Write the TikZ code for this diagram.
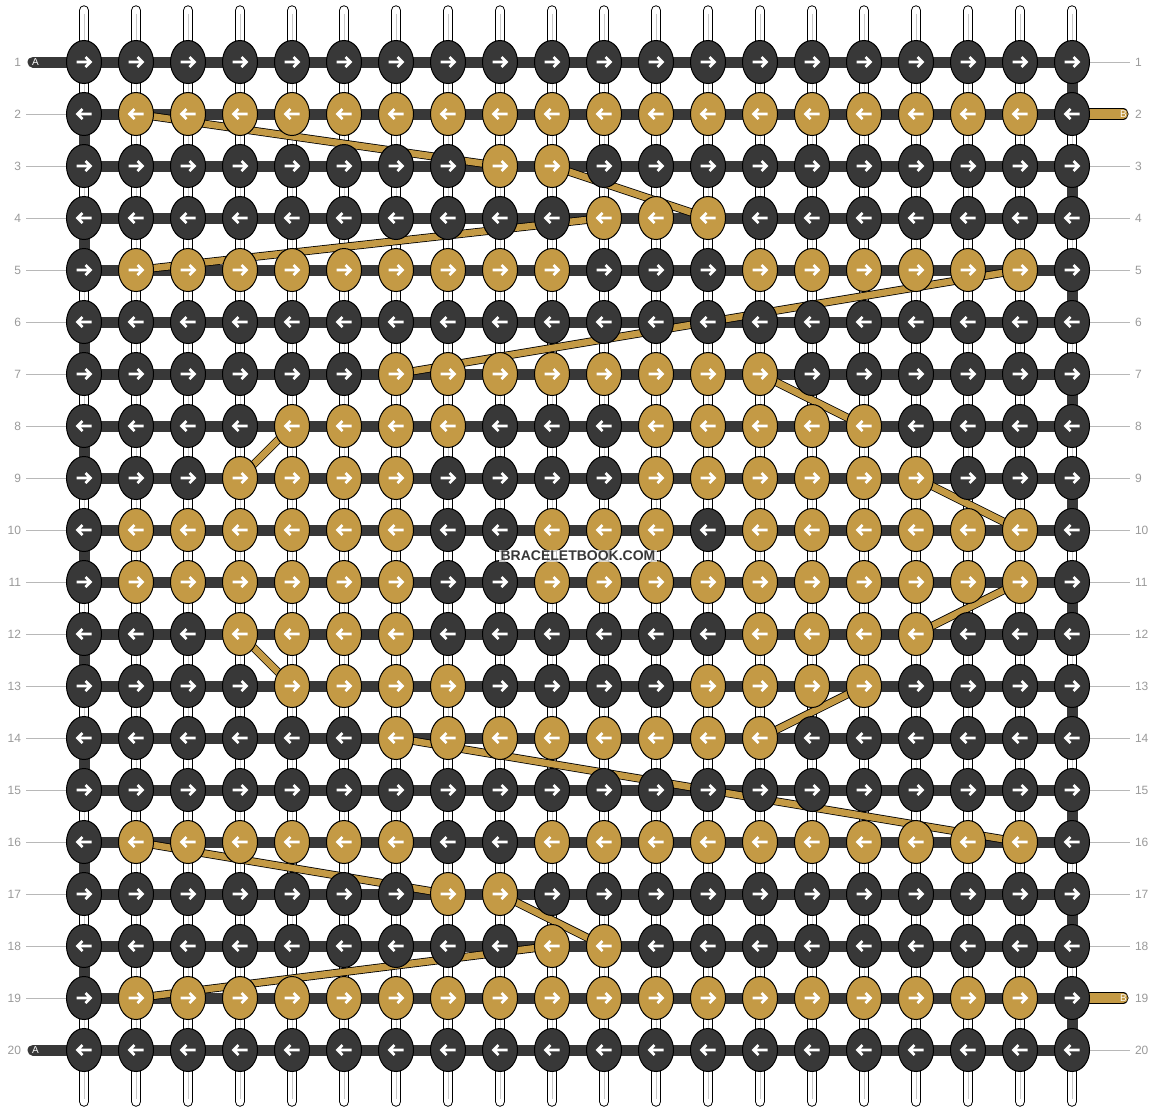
\documentclass[tikz,border=0pt]{standalone}
\usepackage{fontspec}
\setmainfont{Liberation Sans}
\usetikzlibrary{positioning,shapes.geometric,backgrounds}

\definecolor{knotdark}{HTML}{383838}
\definecolor{knotgold}{HTML}{C49A45}
\definecolor{rowgray}{HTML}{9A9A9A}

\tikzset{
    knot/.style={ellipse,draw=black,line width=1pt,minimum width=35pt,minimum height=43pt,inner sep=0pt},
    knotarrow/.style={white,line width=2.6pt},
    thread/.style={draw=black,line width=1pt,double=white,double distance=8.5pt,line cap=round},
    threadmid/.style={black!22,line width=1pt},
    rowbar/.style={knotdark,line width=11pt},
    goldend/.style={draw=black,line width=0.8pt,double=knotgold,double distance=9.5pt,line cap=round},
    goldpath/.style={draw=black,line width=0.8pt,double=knotgold,double distance=6.5pt},
    rownum/.style={text=rowgray,font=\fontsize{12}{12}\selectfont,inner sep=0pt,outer sep=5pt},
    numline/.style={black!28,line width=0.8pt},
    tag/.style={font=\fontsize{10}{10}\selectfont,inner sep=0pt},
}

\begin{document}
\begin{tikzpicture}[x=1pt,y=-1pt]
    \useasboundingbox (0,0) rectangle (1156,1112);

    % knots, 1 = gold
    \foreach \r/\code in {
        1/{0,0,0,0,0,0,0,0,0,0,0,0,0,0,0,0,0,0,0,0},
        2/{0,1,1,1,1,1,1,1,1,1,1,1,1,1,1,1,1,1,1,0},
        3/{0,0,0,0,0,0,0,0,1,1,0,0,0,0,0,0,0,0,0,0},
        4/{0,0,0,0,0,0,0,0,0,0,1,1,1,0,0,0,0,0,0,0},
        5/{0,1,1,1,1,1,1,1,1,1,0,0,0,1,1,1,1,1,1,0},
        6/{0,0,0,0,0,0,0,0,0,0,0,0,0,0,0,0,0,0,0,0},
        7/{0,0,0,0,0,0,1,1,1,1,1,1,1,1,0,0,0,0,0,0},
        8/{0,0,0,0,1,1,1,1,0,0,0,1,1,1,1,1,0,0,0,0},
        9/{0,0,0,1,1,1,1,0,0,0,0,1,1,1,1,1,1,0,0,0},
        10/{0,1,1,1,1,1,1,0,0,1,1,1,0,1,1,1,1,1,1,0},
        11/{0,1,1,1,1,1,1,0,0,1,1,1,1,1,1,1,1,1,1,0},
        12/{0,0,0,1,1,1,1,0,0,0,0,0,0,1,1,1,1,0,0,0},
        13/{0,0,0,0,1,1,1,1,0,0,0,0,1,1,1,1,0,0,0,0},
        14/{0,0,0,0,0,0,1,1,1,1,1,1,1,1,0,0,0,0,0,0},
        15/{0,0,0,0,0,0,0,0,0,0,0,0,0,0,0,0,0,0,0,0},
        16/{0,1,1,1,1,1,1,0,0,1,1,1,1,1,1,1,1,1,1,0},
        17/{0,0,0,0,0,0,0,1,1,0,0,0,0,0,0,0,0,0,0,0},
        18/{0,0,0,0,0,0,0,0,0,1,1,0,0,0,0,0,0,0,0,0},
        19/{0,1,1,1,1,1,1,1,1,1,1,1,1,1,1,1,1,1,1,0},
        20/{0,0,0,0,0,0,0,0,0,0,0,0,0,0,0,0,0,0,0,0}}{
        \pgfmathsetmacro\y{62+52*(\r-1)}
        \pgfmathsetmacro\d{isodd(\r)?1:-1}
        \foreach \v [count=\c] in \code {
            \pgfmathsetmacro\x{84+52*(\c-1)}
            \ifnum\v=1 \def\kfill{knotgold}\else\def\kfill{knotdark}\fi
            \node[knot,fill=\kfill] (k-\r-\c) at (\x,\y) {};
            \draw[knotarrow] (k-\r-\c.center) ++(-7.5*\d,0) -- ++(14*\d,0)
                ++(-5*\d,-5) -- ++(5*\d,5) -- ++(-5*\d,5);
        }
        \node[rownum,anchor=east] (ln-\r) at (26,\y) {\r};
        \node[rownum,anchor=west] (rn-\r) at (1130,\y) {\r};
    }

    % loose ends
    \coordinate (endA-1) at (33,62);
    \coordinate (endA-20) at (33,1050);
    \coordinate (endB-2) at (1123,114);
    \coordinate (endB-19) at (1123,998);
    \node[tag,text=white] (tagA-1) at (35.5,62) {A};
    \node[tag,text=white] (tagA-20) at (35.5,1050) {A};
    \node[tag,text=white!92!knotgold] (tagB-2) at (1123.5,114) {B};
    \node[tag,text=white!92!knotgold] (tagB-19) at (1123.5,998) {B};

    \node[font=\bfseries\fontsize{14}{14}\selectfont,text=knotdark,fill=white,fill opacity=0.75,text opacity=1,inner sep=1.5pt] (brand) at (578,556) {BRACELETBOOK.COM};

    \begin{pgfonlayer}{background}
        \fill[white] (0,0) rectangle (1156,1112);
        \foreach \c in {1,...,20}{
            \pgfmathsetmacro\x{84+52*(\c-1)}
            \coordinate (top-\c) at (\x,10.5);
            \coordinate (bot-\c) at (\x,1101.5);
            \draw[thread] (top-\c) -- (bot-\c);
            \draw[threadmid] ([yshift=-3pt]top-\c) -- ([yshift=3pt]bot-\c);
        }
        % turns at the edges
        \foreach \r in {1,...,19}{
            \pgfmathtruncatemacro\rr{\r+1}
            \ifodd\r
                \draw[rowbar] (k-\r-20.center) -- (k-\rr-20.center);
            \else
                \draw[rowbar] (k-\r-1.center) -- (k-\rr-1.center);
            \fi
        }
        \foreach \r in {1,...,20}
            \draw[rowbar] (k-\r-1.center) -- (k-\r-20.center);
        \foreach \r in {2,...,19}
            \draw[numline] (ln-\r) -- (k-\r-1);
        \foreach \r in {1,3,4,...,18,20}
            \draw[numline] (k-\r-20) -- (rn-\r);
        \draw[rowbar,line cap=round] (endA-1) -- (k-1-1.center);
        \draw[rowbar,line cap=round] (endA-20) -- (k-20-1.center);
        \draw[goldend] (k-2-20.center) -- (endB-2);
        \draw[goldend] (k-19-20.center) -- (endB-19);
        % gold thread moving between rows
        \foreach \ra/\ca/\rb/\cb in {2/2/3/9, 3/10/4/13, 4/11/5/2, 5/19/7/7,
            7/14/8/16, 8/5/9/4, 9/17/10/19, 11/19/12/17, 12/4/13/5,
            13/16/14/14, 14/7/16/19, 16/2/17/8, 17/9/18/11, 18/10/19/2}
            \draw[goldpath] (k-\ra-\ca.center) -- (k-\rb-\cb.center);
    \end{pgfonlayer}
\end{tikzpicture}
\end{document}
